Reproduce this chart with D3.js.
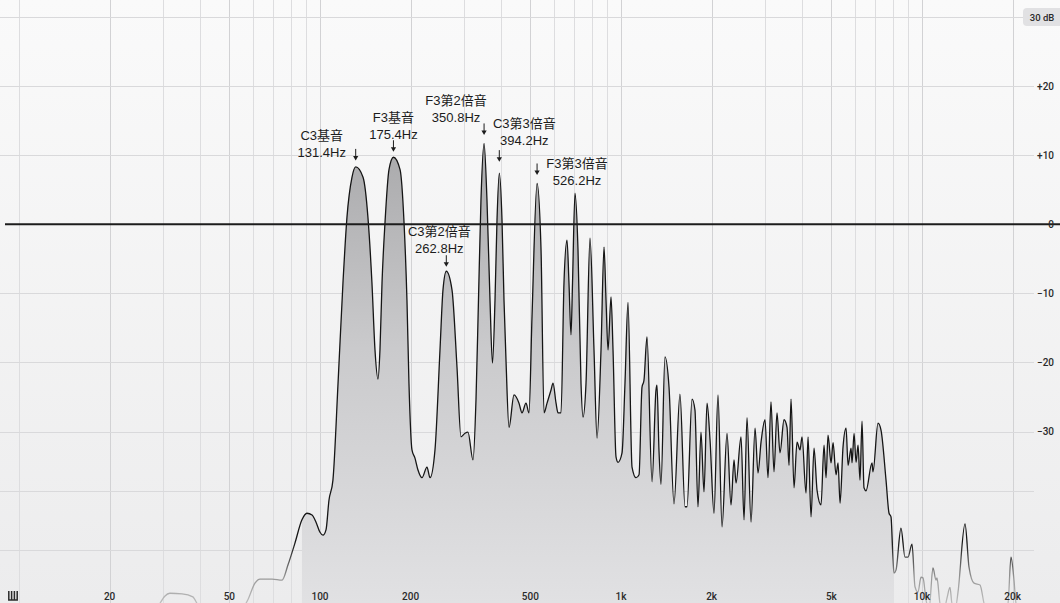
<!DOCTYPE html>
<html>
<head>
<meta charset="utf-8">
<script src="https://cdn.jsdelivr.net/npm/d3@7"></script>
<style>
  html, body { margin: 0; padding: 0; background: #f4f4f5; }
  svg { display: block; }
</style>
</head>
<body>
<svg id="chart" width="1060" height="603"></svg>
<script>
// Spectrum of a C3 + F3 dyad: frequency (Hz) and level (dB)
const freqHz = [
  27.2, 29.4, 30.5, 31.7, 34.8, 37.8, 39.3, 44.8, 54.2, 57.6,
  60.8, 63.2, 69.3, 74.8, 78.3, 82.6, 87.1, 90.5, 94.1, 97.0,
  100, 102.3, 104.7, 107.1, 110.4, 114.8, 119.2, 122.9, 127.7, 131.4,
  139.0, 144.3, 148.8, 152.3, 155.8, 158.2, 160.7, 164.4, 169.5, 175.4,
  184.5, 190.2, 194.5, 197.5, 202.1, 206.8, 211.6, 218.2, 226.7, 232.0,
  241.0, 250.4, 256.2, 262.8, 274.5, 285.2, 294.0, 303.1, 310.2, 322.3,
  329.8, 336.1, 342.6, 350.8, 358.7, 367.1, 374.1, 381.4, 387.3, 394.2,
  402.4, 408.6, 414.9, 424.6, 441.1, 458.3, 468.9, 483.5, 494.7, 506.2,
  526.2, 542.4, 555.0, 567.9, 585.5, 594.6, 608.4, 617.8, 632.0, 646.5,
  661.6, 671.7, 682.2, 690.1, 703.4, 719.7, 736.4, 747.9, 765.2, 788.9,
  813.4, 832.4, 858.2, 878.2, 891.8, 905.5, 926.6, 940.8, 962.6, 977.3,
  1008, 1031, 1055, 1088, 1122, 1148, 1174, 1192, 1220, 1268,
  1307, 1317, 1337, 1358, 1400, 1444, 1500, 1570, 1632, 1657,
  1722, 1761, 1802, 1844, 1887, 1931, 1976, 2037, 2100, 2166,
  2250, 2320, 2374, 2411, 2505, 2563, 2622, 2704, 2788, 2852,
  2919, 3009, 3079, 3150, 3223, 3298, 3375, 3480, 3561, 3616,
  3672, 3757, 3844, 3933, 3994, 4118, 4182, 4279, 4378, 4480,
  4619, 4726, 4800, 4873, 4987, 5064, 5181, 5261, 5343, 5466,
  5594, 5681, 5812, 5856, 5947, 6038, 6132, 6223, 6320, 6417,
  6516, 6822, 6874, 7142, 7308, 7594, 7771, 7889, 8012, 8072,
  8196, 8515, 8780, 8984, 9264, 9478, 9699, 9924, 10076, 10311,
  10551, 10877, 11130, 11215, 11477, 11833, 12109, 12388, 12580, 12972,
  13171, 13897, 14327, 14888, 15586, 16069, 17482, 19306, 19755, 20212,
  20525, 21988, 28730
];
const levelDb = [
  -62.7, -59.0, -57.8, -57.3, -57.4, -57.9, -59.3, -62.7, -60.5, -58.4,
  -55.6, -54.9, -54.9, -55.1, -52.5, -48.8, -44.9, -43.8, -44.1, -45.3,
  -47.0, -47.5, -46.6, -41.6, -38.2, -23.0, -8.5, 1.0, 6.8, 8.3,
  6.8, 1.0, -8.5, -18.2, -22.4, -18.2, -8.5, 0.2, 7.9, 9.7,
  7.9, 0.2, -11.0, -23.0, -33.1, -34.5, -36.5, -37.8, -36.0, -37.8,
  -33.1, -18.2, -9.5, -6.8, -9.5, -20.7, -30.9, -30.3, -30.1, -34.8,
  -25.4, -11.0, 3.5, 11.7, 3.5, -11.0, -20.1, -11.0, 0.6, 7.4,
  0.6, -11.0, -19.7, -29.4, -24.7, -25.9, -27.3, -25.9, -27.3, -13.4,
  5.9, -3.7, -27.3, -25.9, -24.0, -23.0, -25.9, -27.3, -27.3, -8.5,
  -2.3, -8.5, -16.0, -8.5, 4.5, -3.7, -23.0, -27.9, -23.0, -2.0,
  -18.2, -31.1, -18.2, -3.3, -11.0, -18.2, -10.5, -18.2, -34.3, -35.2,
  -33.6, -23.0, -11.3, -36.0, -37.8, -37.3, -23.6, -22.6, -16.3, -38.5,
  -24.0, -23.3, -33.1, -38.9, -19.2, -23.6, -42.2, -24.6, -42.7, -42.7,
  -25.3, -26.9, -42.7, -30.1, -40.2, -25.9, -31.4, -43.8, -24.7, -46.1,
  -30.3, -42.4, -34.8, -38.7, -30.9, -44.9, -28.0, -45.3, -29.5, -37.0,
  -31.8, -28.3, -37.8, -25.7, -36.8, -27.3, -33.6, -28.3, -29.4, -35.7,
  -25.3, -39.5, -31.8, -33.1, -30.9, -40.4, -30.9, -44.4, -32.8, -39.9,
  -42.4, -32.3, -37.8, -30.6, -35.3, -31.9, -37.3, -35.3, -42.1, -32.6,
  -29.5, -35.7, -32.8, -35.3, -30.3, -35.2, -32.3, -38.2, -28.5, -39.5,
  -40.0, -35.3, -36.8, -28.8, -29.8, -38.2, -43.8, -44.4, -51.7, -53.9,
  -53.4, -46.3, -51.2, -51.2, -49.0, -56.2, -57.1, -54.6, -54.7, -58.4,
  -60.1, -53.0, -55.1, -54.7, -59.0, -60.1, -58.1, -56.3, -59.0, -59.3,
  -57.1, -45.6, -52.9, -55.6, -55.9, -59.0, -62.7, -59.0, -51.2, -55.1,
  -59.0, -62.7, -62.7
];

// Annotated partials
const noteNames = ["C3基音", "F3基音", "C3第2倍音", "F3第2倍音", "C3第3倍音", "F3第3倍音"];
const noteFreqs = [131.4, 175.4, 262.8, 350.8, 394.2, 526.2];

// Axis ticks
const xTickValues = [20, 50, 100, 200, 500, 1000, 2000, 5000, 10000, 20000];
const xTickLabels = ["20", "50", "100", "200", "500", "1k", "2k", "5k", "10k", "20k"];
const yTickValues = [20, 10, 0, -10, -20, -30];
const yTickLabels = ["+20", "+10", "0", "\u221210", "\u221220", "\u221230"];
const yGridValues = [30, 20, 10, 0, -10, -20, -30, -40, -50];
const rangeLabel = "30 dB";

// Band over which the analyzer shades the area under the curve (Hz)
const shadeBand = [85, 8100];

const W = 1060, H = 603;
const svg = d3.select("#chart");

// Log frequency axis, dB axis (compressed below -30 dB)
const x = d3.scaleLog().domain([100, 10000]).range([320, 922]);
const y = d3.scaleLinear().domain([30, -30, -50]).range([17, 431.5, 550]);

const defs = svg.append("defs");

const bg = defs.append("linearGradient").attr("id", "bg")
  .attr("x1", 0).attr("y1", 0).attr("x2", 0).attr("y2", 1);
bg.append("stop").attr("offset", 0).attr("stop-color", "#fafafa");
bg.append("stop").attr("offset", 1).attr("stop-color", "#ececed");

const areaGrad = defs.append("linearGradient").attr("id", "areaGrad")
  .attr("gradientUnits", "userSpaceOnUse")
  .attr("x1", 0).attr("y1", 140).attr("x2", 0).attr("y2", H);
areaGrad.append("stop").attr("offset", 0).attr("stop-color", "#a9a9ab");
areaGrad.append("stop").attr("offset", 0.45).attr("stop-color", "#cacacc");
areaGrad.append("stop").attr("offset", 1).attr("stop-color", "#e1e1e3");

const lineGrad = defs.append("linearGradient").attr("id", "lineGrad")
  .attr("gradientUnits", "userSpaceOnUse")
  .attr("x1", 0).attr("y1", 0).attr("x2", 0).attr("y2", H);
lineGrad.append("stop").attr("offset", 0).attr("stop-color", "#141414");
lineGrad.append("stop").attr("offset", 0.9).attr("stop-color", "#161616");
lineGrad.append("stop").attr("offset", 0.96).attr("stop-color", "#9a9a9a");
lineGrad.append("stop").attr("offset", 1).attr("stop-color", "#bdbdbd");

defs.append("clipPath").attr("id", "plotClip")
  .append("rect").attr("x", 0).attr("y", 0).attr("width", W).attr("height", H);

svg.append("rect").attr("width", W).attr("height", H).attr("fill", "url(#bg)");

// Vertical log grid: 10 Hz .. 20 kHz
const gridFreqs = [];
[10, 100, 1000, 10000].forEach(dec => {
  for (let k = 1; k <= 9; k++) {
    const f = dec * k;
    if (f <= 20000) gridFreqs.push(f);
  }
});
svg.append("g").selectAll("line").data(gridFreqs).join("line")
  .attr("x1", d => Math.round(x(d)) + 0.5).attr("x2", d => Math.round(x(d)) + 0.5)
  .attr("y1", 0).attr("y2", H)
  .attr("stroke", d => xTickValues.includes(d) ? "#d2d2d4" : "#dddddf")
  .attr("stroke-width", 1);

// Horizontal dB grid
svg.append("g").selectAll("line").data(yGridValues.filter(v => v !== 0)).join("line")
  .attr("x1", 0).attr("x2", 1034)
  .attr("y1", d => Math.round(y(d)) + 0.5).attr("y2", d => Math.round(y(d)) + 0.5)
  .attr("stroke", "#d9d9db").attr("stroke-width", 1);

// Spectrum
const pts = freqHz.map((f, i) => [f, levelDb[i]]);
const plot = svg.append("g").attr("clip-path", "url(#plotClip)");

const area = d3.area()
  .defined(d => d[0] >= shadeBand[0] && d[0] <= shadeBand[1])
  .x(d => x(d[0])).y0(H + 20).y1(d => y(d[1]))
  .curve(d3.curveMonotoneX);
const line = d3.line()
  .x(d => x(d[0])).y(d => y(d[1]))
  .curve(d3.curveMonotoneX);

plot.append("path").datum(pts).attr("d", area).attr("fill", "url(#areaGrad)");

// 0 dB reference line
svg.append("line")
  .attr("x1", 5).attr("x2", W)
  .attr("y1", y(0)).attr("y2", y(0))
  .attr("stroke", "#1c1c1c").attr("stroke-width", 2);

plot.append("path").datum(pts).attr("d", line)
  .attr("fill", "none").attr("stroke", "url(#lineGrad)")
  .attr("stroke-width", 1.3).attr("stroke-linejoin", "round");

// Right-hand dB labels
svg.append("g").selectAll("text").data(yTickValues).join("text")
  .attr("x", 1054).attr("y", d => y(d))
  .attr("text-anchor", "end").attr("dominant-baseline", "central")
  .attr("font-family", "Roboto, 'DejaVu Sans', sans-serif")
  .attr("font-size", 10).attr("font-weight", 500).attr("fill", "#2a2a2a")
  .text((d, i) => yTickLabels[i]);

// Range badge
svg.append("rect").attr("x", 1023).attr("y", 8).attr("width", 40).attr("height", 18)
  .attr("rx", 4).attr("fill", "#e1e1e3");
svg.append("text").attr("x", 1042).attr("y", 17.5)
  .attr("text-anchor", "middle").attr("dominant-baseline", "central")
  .attr("font-family", "Roboto, 'DejaVu Sans', sans-serif")
  .attr("font-size", 9.5).attr("font-weight", 500).attr("fill", "#2a2a2a")
  .text(rangeLabel);

// Frequency labels along the bottom
svg.append("g").selectAll("text").data(xTickValues).join("text")
  .attr("x", d => x(d)).attr("y", 600)
  .attr("text-anchor", "middle")
  .attr("font-family", "Roboto, 'DejaVu Sans', sans-serif")
  .attr("font-size", 10).attr("font-weight", 500).attr("fill", "#2a2a2a")
  .text((d, i) => xTickLabels[i]);

// Keyboard icon, bottom left
const icon = svg.append("g").attr("transform", "translate(8,591)")
  .attr("fill", "none").attr("stroke", "#2a2a2a").attr("stroke-width", 1.5);
icon.append("path").attr("d", "M0.8,0 V9 H9.2 V0 M3.6,0 V9 M6.4,0 V9");

// Partial annotations: label text offsets relative to the arrow
const labelLayout = [
  { dx: -34, l1: -19, l2: -2, ay: -12 },
  { dx: 0, l1: -29, l2: -12, ay: -11 },
  { dx: -7, l1: -30, l2: -13, ay: -10 },
  { dx: -28, l1: -29, l2: -12, ay: -14 },
  { dx: 25, l1: -33, l2: -16, ay: -17 },
  { dx: 40, l1: -6, l2: 11, ay: -14 }
];
const fmtHz = d3.format(".1f");
const notes = svg.append("g")
  .attr("font-family", "'Liberation Sans', Arial, 'Noto Sans CJK SC', sans-serif")
  .attr("font-size", 13).attr("fill", "#1c1c1c");
noteFreqs.forEach((f, i) => {
  const idx = freqHz.indexOf(f);
  const ax = x(f);
  const ay = y(levelDb[idx]) + labelLayout[i].ay;
  const lay = labelLayout[i];
  // downward arrow pointing at the peak
  notes.append("path")
    .attr("d", `M${ax},${ay - 6} V${ay + 2}`)
    .attr("stroke", "#1c1c1c").attr("stroke-width", 1).attr("fill", "none");
  notes.append("path")
    .attr("d", `M${ax - 2.6},${ay + 1} L${ax},${ay + 5.5} L${ax + 2.6},${ay + 1} Z`)
    .attr("fill", "#1c1c1c");
  notes.append("text").attr("x", ax + lay.dx).attr("y", ay + lay.l1)
    .attr("text-anchor", "middle").attr("dominant-baseline", "central")
    .text(noteNames[i]);
  notes.append("text").attr("x", ax + lay.dx).attr("y", ay + lay.l2)
    .attr("text-anchor", "middle").attr("dominant-baseline", "central")
    .text(fmtHz(f) + "Hz");
});
</script>
</body>
</html>
